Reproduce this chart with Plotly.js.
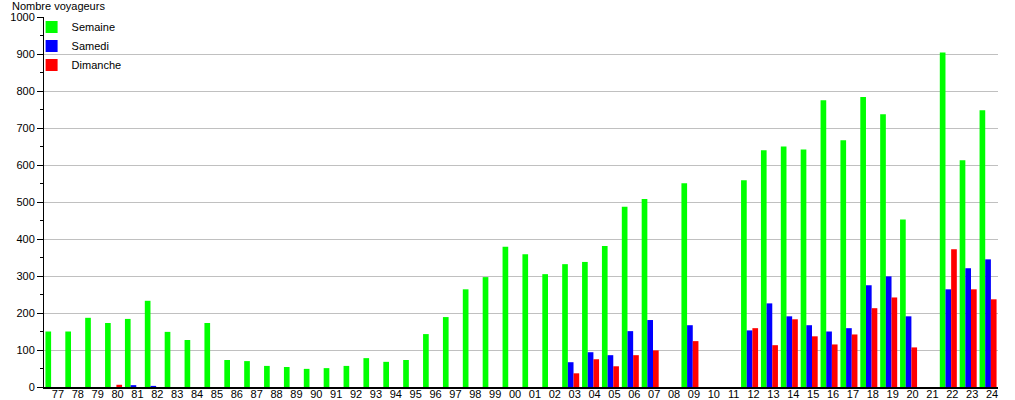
<!DOCTYPE html>
<html>
<head>
<meta charset="utf-8">
<script src="https://cdn.plot.ly/plotly-3.0.1.min.js"></script>
<style>html,body{margin:0;padding:0;background:#fff;}#chart{width:1015px;height:400px;}</style>
</head>
<body>
<div id="chart"></div>
<script>
var years = ["77","78","79","80","81","82","83","84","85","86","87","88","89","90","91","92","93","94","95","96","97","98","99",
             "00","01","02","03","04","05","06","07","08","09","10","11","12","13","14","15","16","17","18","19","20","21","22","23","24"];
var semaine = [150,150,187,173,184,233,149,127,173,73,70,57,54,49,51,57,78,68,73,143,189,264,297,
               379,359,305,332,338,381,487,508,null,551,null,null,559,640,650,642,775,667,784,737,453,null,904,613,748];
var samedi = [null,null,null,null,5,3,null,null,null,null,null,null,null,null,null,null,null,null,null,null,null,null,null,
              null,null,null,67,94,86,151,181,null,167,null,null,153,226,191,167,150,159,275,299,191,null,264,321,345];
var dimanche = [null,null,null,6,null,null,null,null,null,null,null,null,null,null,null,null,null,null,null,null,null,null,null,
                null,null,null,37,75,56,86,99,null,124,null,null,159,113,183,137,115,142,213,242,107,null,372,264,237];
var seriesNames = ["Semaine","Samedi","Dimanche"];
var seriesColors = ["#00ff00","#0000ff","#ff0000"];
var yTitle = "Nombre voyageurs";

var values = [semaine, samedi, dimanche];
var traces = values.map(function(v, i){
  return {type:"bar", x:years, y:v, name:seriesNames[i], marker:{color:seriesColors[i], line:{width:0}}, hoverinfo:"skip"};
});

var layout = {
  width:1015, height:400,
  margin:{l:44, r:17, t:17, b:13},
  paper_bgcolor:"#ffffff", plot_bgcolor:"#ffffff",
  font:{family:"Liberation Sans, Arial, sans-serif", size:11, color:"#000"},
  barmode:"group", bargap:0.144, bargroupgap:0,
  title:{text:yTitle, x:0.0118, xanchor:"left", xref:"container", y:0.995, yanchor:"top", yref:"container", font:{size:11, color:"#000"}},
  xaxis:{type:"category", showgrid:false, showline:true, linecolor:"#000", linewidth:2, ticks:"", zeroline:false,
         ticklabelshift:4, ticklabelstandoff:-4, tickfont:{size:11}, fixedrange:true},
  yaxis:{range:[0,1000], dtick:100, tick0:0, showgrid:true, gridcolor:"#c0c0c0", gridwidth:1, showline:true, linecolor:"#000", linewidth:1,
         ticks:"outside", ticklen:6, tickcolor:"#000", zeroline:false, tickfont:{size:11},
         minor:{dtick:50, ticks:"outside", ticklen:3, tickcolor:"#000", showgrid:false}, fixedrange:true},
  showlegend:true,
  legend:{x:-0.013, xanchor:"left", y:1.012, yanchor:"top", bgcolor:"rgba(0,0,0,0)", borderwidth:0, font:{size:11}, traceorder:"normal", tracegroupgap:0}
};
Plotly.newPlot("chart", traces, layout, {displayModeBar:false, staticPlot:true});
</script>
</body>
</html>
